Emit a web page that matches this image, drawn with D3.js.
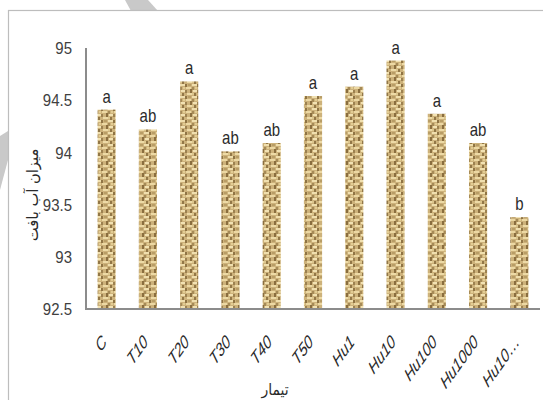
<!DOCTYPE html>
<html>
<head>
<meta charset="utf-8">
<script src="https://cdn.jsdelivr.net/npm/d3@7"></script>
<style>
  html, body { margin: 0; padding: 0; background: #fff; }
  svg { display: block; }
</style>
</head>
<body>
<svg id="chart" width="543" height="400"></svg>
<script>
// ---- data ----
const categories = ["C", "T10", "T20", "T30", "T40", "T50", "Hu1", "Hu10", "Hu100", "Hu1000", "Hu10…"];
const values = [94.41, 94.22, 94.68, 94.01, 94.09, 94.54, 94.63, 94.88, 94.37, 94.09, 93.38];
const letters = ["a", "ab", "a", "ab", "ab", "a", "a", "a", "a", "ab", "b"];
const yTicks = [92.5, 93, 93.5, 94, 94.5, 95];
const yTickLabels = ["92.5", "93", "93.5", "94", "94.5", "95"];
const xTitle = "تیمار";
const yTitle = "میزان آب بافت";

(function () {
const svg = d3.select("#chart");
const W = 543, H = 400;
const pLeft = 86, pRight = 540, pTop = 48, pBottom = 309;

// watermark fragments behind the chart box
svg.append("polygon").attr("points", "125,0 148,0 158,11 131,11").attr("fill", "#c9c9c9");
svg.append("polygon").attr("points", "0,136 8,131 8,160 0,190").attr("fill", "#c9c9c9");

// outer chart box
svg.append("rect").attr("x", 8.5).attr("y", 10.5).attr("width", W).attr("height", H)
  .attr("fill", "#fff").attr("stroke", "#bdbdbd").attr("stroke-width", 1.2);

// burlap (woven) texture pattern
const defs = svg.append("defs");
const pat = defs.append("pattern").attr("id", "burlap").attr("patternUnits", "userSpaceOnUse")
  .attr("width", 12).attr("height", 12);
pat.append("rect").attr("width", 12).attr("height", 12).attr("fill", "#cdb27b");
const weave = [
  [0, 0, 5, 2, "#f0dfae"], [6, 3, 5, 2, "#ecd8a3"], [1, 6, 4, 2, "#f2e2b3"], [7, 9, 5, 2, "#eddaa6"],
  [5, 0, 2, 3, "#8f7444"], [0, 3, 2, 3, "#a58a57"], [10, 5, 2, 4, "#8a6e3f"], [5, 6, 2, 3, "#9c8150"],
  [2, 9, 2, 3, "#927747"], [8, 0, 3, 2, "#b89d66"], [3, 3, 2, 2, "#e2cc93"], [0, 9, 2, 2, "#dcc68e"]
];
weave.forEach(w => pat.append("rect").attr("x", w[0]).attr("y", w[1]).attr("width", w[2]).attr("height", w[3]).attr("fill", w[4]));

// scales
const x = d3.scaleBand().domain(categories).range([pLeft, pRight]).paddingInner(0.56).paddingOuter(0.28);
const y = d3.scaleLinear().domain([92.5, 95]).range([pBottom, pTop]);

// bars
svg.append("g").selectAll("rect").data(categories).join("rect")
  .attr("x", d => x(d))
  .attr("y", (d, i) => y(values[i]))
  .attr("width", x.bandwidth())
  .attr("height", (d, i) => y(92.5) - y(values[i]))
  .attr("fill", "url(#burlap)");

// axis lines
svg.append("line").attr("x1", pLeft).attr("x2", pLeft).attr("y1", pTop).attr("y2", pBottom + 1)
  .attr("stroke", "#8c8c8c").attr("stroke-width", 2);
svg.append("line").attr("x1", pLeft - 1).attr("x2", pRight).attr("y1", pBottom).attr("y2", pBottom)
  .attr("stroke", "#8c8c8c").attr("stroke-width", 2);

const numFont = "'Liberation Sans Narrow', 'Liberation Sans', sans-serif";

// y tick labels
svg.append("g").selectAll("text").data(yTicks).join("text")
  .attr("transform", d => `translate(72,${y(d)}) scale(1,1.15)`)
  .attr("dy", "0.36em")
  .attr("text-anchor", "end")
  .attr("font-family", numFont)
  .attr("font-size", 15)
  .attr("fill", "#404040")
  .text((d, i) => yTickLabels[i]);

// x tick labels (rotated, italic)
svg.append("g").selectAll("text").data(categories).join("text")
  .attr("transform", d => `translate(${x(d) + x.bandwidth() / 2 + 1},343) scale(1,1.4) rotate(-45)`)
  .attr("text-anchor", "end")
  .attr("font-family", numFont)
  .attr("font-style", "italic")
  .attr("font-size", 13.5)
  .attr("fill", "#2a2a2a")
  .text(d => d);

// significance letters
svg.append("g").selectAll("text").data(categories).join("text")
  .attr("transform", (d, i) => `translate(${x(d) + x.bandwidth() / 2},${y(values[i]) - 7}) scale(1,1.25)`)
  .attr("text-anchor", "middle")
  .attr("font-family", numFont)
  .attr("font-size", 15)
  .attr("fill", "#2a2a2a")
  .text((d, i) => letters[i]);

// axis titles
svg.append("text")
  .attr("transform", "translate(275,395) scale(1,1.1)")
  .attr("text-anchor", "middle")
  .attr("font-family", "'DejaVu Sans', sans-serif")
  .attr("font-size", 14)
  .attr("fill", "#2a2a2a")
  .text(xTitle);

svg.append("text")
  .attr("transform", "translate(38,195) rotate(-90) scale(1.05,1.1)")
  .attr("text-anchor", "middle")
  .attr("font-family", "'DejaVu Sans', sans-serif")
  .attr("font-size", 14)
  .attr("fill", "#2a2a2a")
  .text(yTitle);
})();
</script>
</body>
</html>
